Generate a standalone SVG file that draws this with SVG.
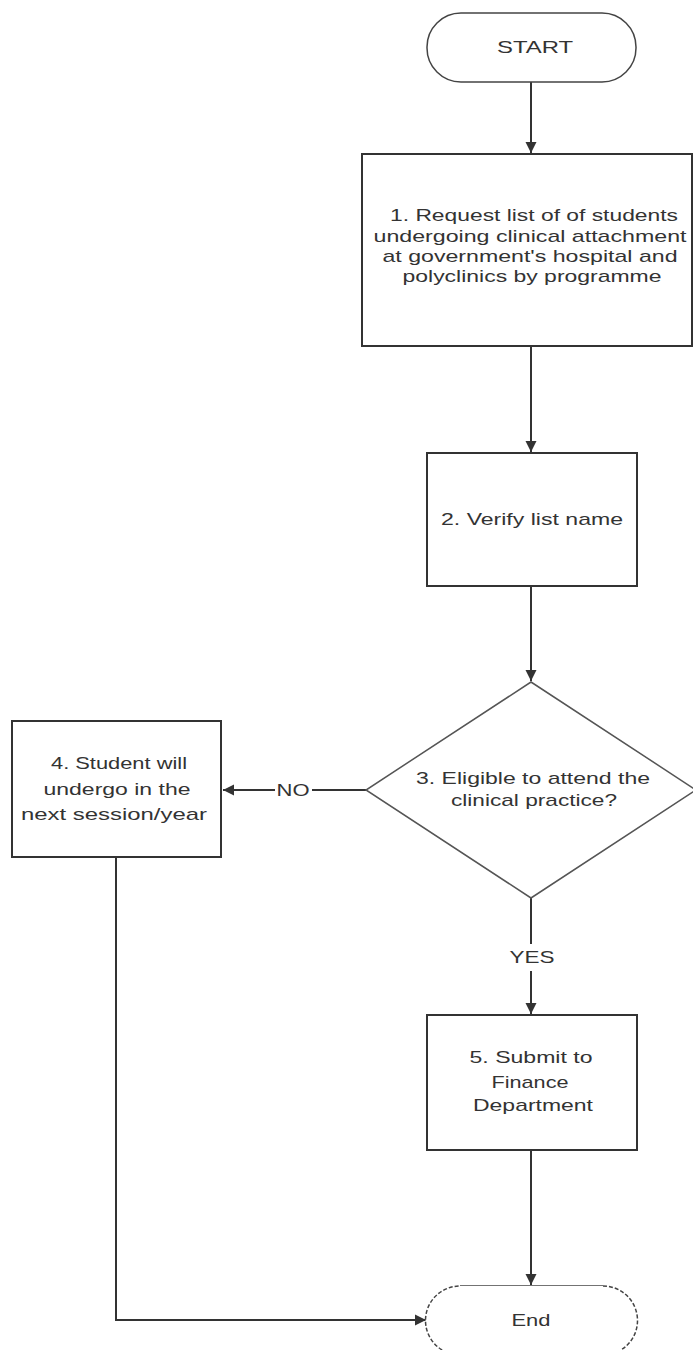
<svg xmlns="http://www.w3.org/2000/svg" width="693" height="1350" viewBox="0 0 693 1350">
<style>
text{font-family:"Liberation Sans",Arial,sans-serif;font-size:17px;fill:#333;text-anchor:middle}
.box{fill:#fff;stroke:#333;stroke-width:2}
.term{fill:#fff;stroke:#444;stroke-width:1.5}
.dia{fill:#fff;stroke:#555;stroke-width:1.5}
.conn{fill:none;stroke:#333;stroke-width:2}
</style>
<defs>
<marker id="arr" markerUnits="userSpaceOnUse" markerWidth="12" markerHeight="12" refX="11" refY="6" orient="auto">
<path d="M0,0.5 L11,6 L0,11.5 z" fill="#333"/>
</marker>
</defs>
<rect width="693" height="1350" fill="#fff"/>
<g id="connectors">
<path class="conn" d="M531,82 V153" marker-end="url(#arr)"/>
<path class="conn" d="M531,346 V452" marker-end="url(#arr)"/>
<path class="conn" d="M531,586 V681" marker-end="url(#arr)"/>
<path class="conn" d="M366,790 H312"/>
<path class="conn" d="M275,790 H223" marker-end="url(#arr)"/>
<text x="293" y="796" textLength="33" lengthAdjust="spacingAndGlyphs">NO</text>
<path class="conn" d="M531,898 V944"/>
<path class="conn" d="M531,971 V1014" marker-end="url(#arr)"/>
<text x="532" y="963" textLength="45" lengthAdjust="spacingAndGlyphs">YES</text>
<path class="conn" d="M531,1150 V1285" marker-end="url(#arr)"/>
<path class="conn" d="M116,857 V1320 H426" marker-end="url(#arr)"/>
</g>
<g id="start">
<rect class="term" x="427" y="13" width="209" height="69" rx="34"/>
<text x="535" y="53" textLength="76" lengthAdjust="spacingAndGlyphs">START</text>
</g>
<g id="step1">
<rect class="box" x="362" y="154" width="330" height="192"/>
<text x="534" y="221" textLength="288" lengthAdjust="spacingAndGlyphs">1. Request list of of students</text>
<text x="530" y="242" textLength="313" lengthAdjust="spacingAndGlyphs">undergoing clinical attachment</text>
<text x="530" y="262" textLength="295" lengthAdjust="spacingAndGlyphs">at government's hospital  and</text>
<text x="532" y="282" textLength="259" lengthAdjust="spacingAndGlyphs">polyclinics by programme</text>
</g>
<g id="step2">
<rect class="box" x="427" y="453" width="210" height="133"/>
<text x="532" y="525" textLength="182" lengthAdjust="spacingAndGlyphs">2. Verify list name</text>
</g>
<g id="step3">
<polygon class="dia" points="531,682 696,790 531,898 366,790"/>
<text x="533" y="784" textLength="234" lengthAdjust="spacingAndGlyphs">3. Eligible to attend the</text>
<text x="534" y="806" textLength="166" lengthAdjust="spacingAndGlyphs">clinical practice?</text>
</g>
<g id="step4">
<rect class="box" x="12" y="721" width="209" height="136"/>
<text x="119" y="769" textLength="136" lengthAdjust="spacingAndGlyphs">4. Student will</text>
<text x="117" y="795" textLength="147" lengthAdjust="spacingAndGlyphs">undergo in the</text>
<text x="114" y="820" textLength="186" lengthAdjust="spacingAndGlyphs">next session/year</text>
</g>
<g id="step5">
<rect class="box" x="427" y="1015" width="210" height="135"/>
<text x="531" y="1063" textLength="123" lengthAdjust="spacingAndGlyphs">5. Submit to</text>
<text x="530" y="1088" textLength="77" lengthAdjust="spacingAndGlyphs">Finance</text>
<text x="533" y="1111" textLength="120" lengthAdjust="spacingAndGlyphs">Department</text>
</g>
<g id="end">
<path class="term" d="M460,1286 H603"/>
<path class="term" d="M603,1286 A34.5,34.5 0 0 1 603,1355 H460 A34.5,34.5 0 0 1 460,1286" stroke-dasharray="4 2"/>
<text x="531" y="1326" textLength="39" lengthAdjust="spacingAndGlyphs">End</text>
</g>
</svg>
